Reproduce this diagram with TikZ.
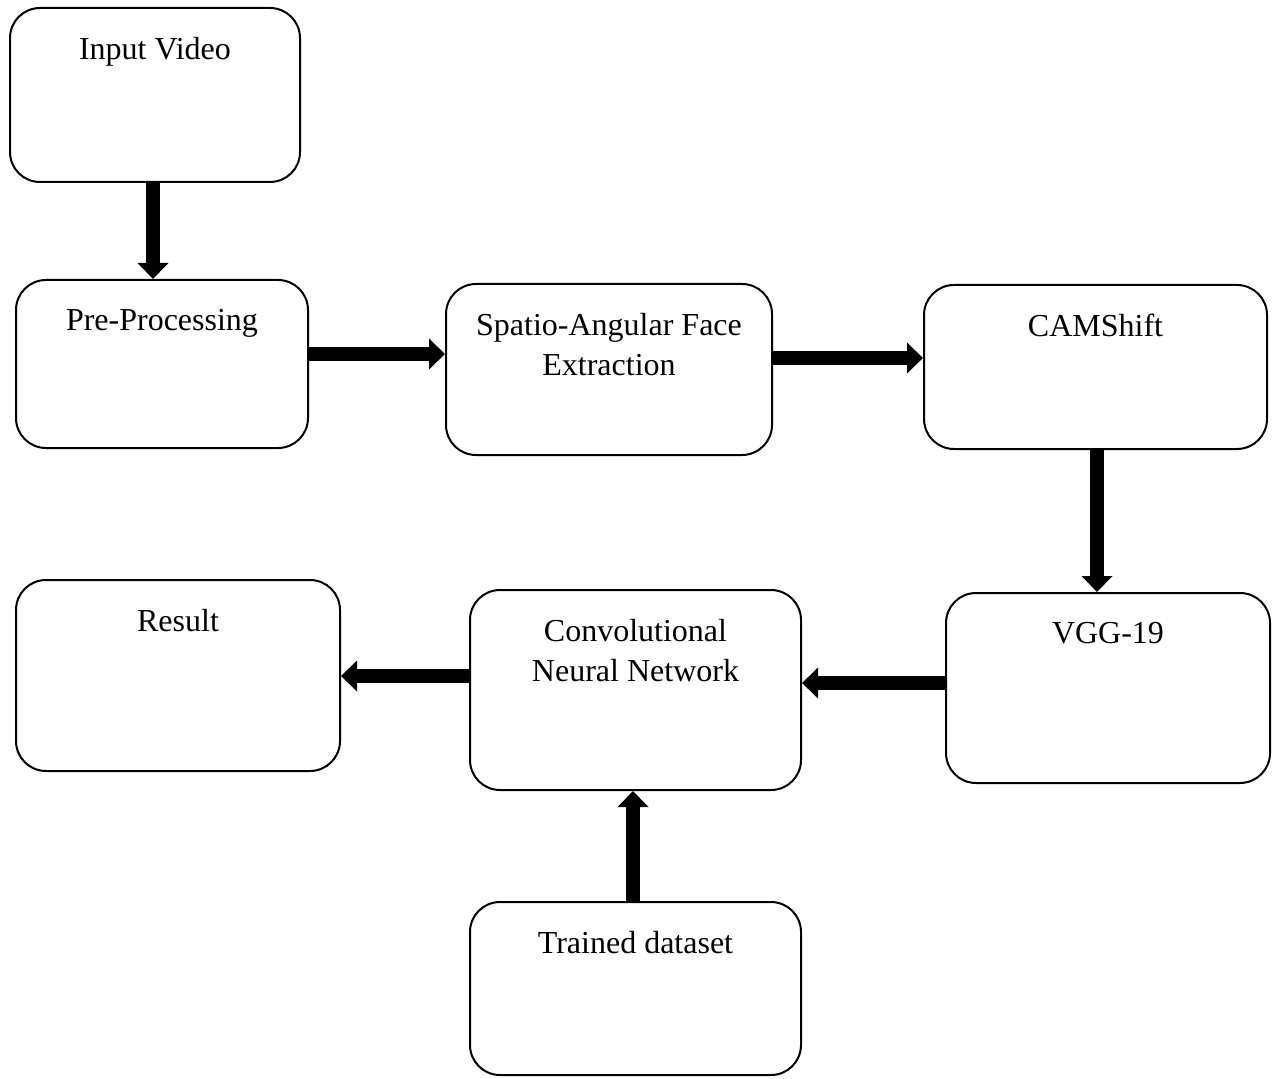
\documentclass[tikz,border=0pt]{standalone}
\usepackage{fontspec}
\setmainfont{Liberation Serif}
\usetikzlibrary{arrows.meta}
\tikzset{
	stagebox/.style={draw, line width=1pt, rounded corners=15pt, minimum width=#1},
	stagetext/.style={anchor=north, inner sep=0pt, yshift=-15pt, align=center, font=\fontsize{16pt}{20pt}\selectfont},
	flow/.style={line width=7pt, -{Triangle[width=15pt,length=8pt]}}
}
\begin{document}
\begin{tikzpicture}[x=0.5pt, y=-0.5pt]
	\useasboundingbox (0, 0) rectangle (1272, 1079);
	% stages
	\node[stagebox=145pt, minimum height=87pt, label={[stagetext]north:Input Video}] (input) at (155, 95) {};
	\node[stagebox=146pt, minimum height=84pt, label={[stagetext]north:Pre-Processing}] (pre) at (162, 364) {};
	\node[stagebox=163pt, minimum height=85.5pt, label={[stagetext]north:Spatio-Angular Face\\Extraction}] (spatio) at (609, 369.5) {};
	\node[stagebox=171.5pt, minimum height=82pt, label={[stagetext]north:CAMShift}] (cam) at (1095.5, 367) {};
	\node[stagebox=162pt, minimum height=95pt, label={[stagetext]north:VGG-19}] (vgg) at (1108, 688) {};
	\node[stagebox=165.5pt, minimum height=100pt, label={[stagetext]north:Convolutional\\Neural Network}] (cnn) at (635.5, 690) {};
	\node[stagebox=162pt, minimum height=95.5pt, label={[stagetext]north:Result}] (result) at (178, 675.5) {};
	\node[stagebox=165.5pt, minimum height=86.5pt, label={[stagetext]north:Trained dataset}] (trained) at (635.5, 988.5) {};
	% arrows
	\draw[flow] ([xshift=-1pt]input.south) -- ([xshift=-1pt]input.south |- pre.north);
	\draw[flow] ([yshift=5pt]pre.east) -- ([yshift=5pt]pre.east -| spatio.west);
	\draw[flow] ([yshift=5.75pt]spatio.east) -- ([yshift=5.75pt]spatio.east -| cam.west);
	\draw[flow] ([xshift=0.75pt]cam.south) -- ([xshift=0.75pt]cam.south |- vgg.north);
	\draw[flow] ([yshift=2.5pt]vgg.west) -- ([yshift=2.5pt]vgg.west -| cnn.east);
	\draw[flow] ([yshift=7pt]cnn.west) -- ([yshift=7pt]cnn.west -| result.east);
	\draw[flow] ([xshift=-1.25pt]trained.north) -- ([xshift=-1.25pt]trained.north |- cnn.south);
\end{tikzpicture}
\end{document}
